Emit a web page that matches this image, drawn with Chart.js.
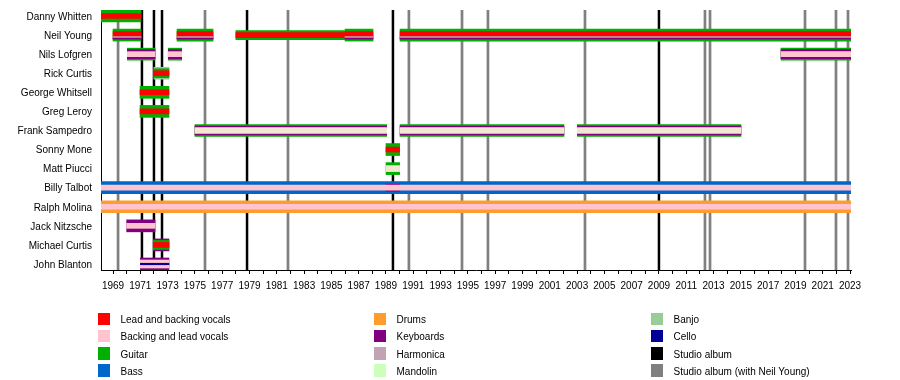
<!DOCTYPE html>
<html>
<head>
<meta charset="utf-8">
<script src="https://cdn.jsdelivr.net/npm/chart.js@4/dist/chart.umd.min.js"></script>
<style>
  html, body { margin: 0; padding: 0; background: #fff; }
  #wrap { position: relative; width: 900px; height: 380px; overflow: hidden; }
  #chart { position: absolute; left: 0; top: 0; }
  .leg { position: absolute; font: 10px "Liberation Sans", Arial, sans-serif; color: #000; white-space: nowrap; }
  .sw { position: absolute; width: 12px; height: 12.5px; }
  .lt { position: absolute; line-height: 13px; }
</style>
</head>
<body>
<div id="wrap">
  <canvas id="chart" width="900" height="380"></canvas>
  <div id="legend"></div>
</div>
<script>
// ---------- data ----------
const members = ['Danny Whitten','Neil Young','Nils Lofgren','Rick Curtis','George Whitsell','Greg Leroy',
  'Frank Sampedro','Sonny Mone','Matt Piucci','Billy Talbot','Ralph Molina','Jack Nitzsche','Michael Curtis','John Blanton'];

const timelineStart = 1968.12;
const timelineEnd = 2023.07;

// Studio albums (year as decimal)
const studioAlbums = [1971.12, 1972.0, 1972.59, 1978.82, 1989.51, 2009.0];
const studioAlbumsWithNeilYoung = [1969.37, 1975.74, 1981.82, 1990.68, 1994.57, 1996.47, 2003.58, 2012.37, 2012.74, 2019.7, 2021.97, 2022.85];

// Periods: [member, from, till]
const guitar = [
  ['Danny Whitten', 1968.12, 1971.05],
  ['Neil Young', 1969.0, 1971.05], ['Neil Young', 1973.69, 1976.33], ['Neil Young', 1986.0, 1988.05], ['Neil Young', 1990.03, 2023.07],
  ['Nils Lofgren', 1970.05, 1972.08], ['Nils Lofgren', 1973.05, 1974.03], ['Nils Lofgren', 2017.94, 2023.07],
  ['George Whitsell', 1970.98, 1973.1],
  ['Greg Leroy', 1970.98, 1973.1],
  ['Frank Sampedro', 1975.0, 1989.05], ['Frank Sampedro', 1990.03, 2002.04], ['Frank Sampedro', 2003.02, 2015.01],
  ['Sonny Mone', 1989.0, 1990.0],
  ['Matt Piucci', 1989.0, 1990.0]
];
const guitarPartTime = [['Neil Young', 1978.0, 1986.0]];
const guitarSecondary = [['Rick Curtis', 1972.0, 1973.1], ['Michael Curtis', 1971.95, 1973.1]];
const bass = [['Billy Talbot', 1968.12, 2023.07]];
const drums = [['Ralph Molina', 1968.12, 2023.07]];
const keyboards = [['Jack Nitzsche', 1970.0, 1972.08], ['Michael Curtis', 1971.95, 1973.1], ['John Blanton', 1971.0, 1973.1]];
const keyboardsSecondary = [
  ['Nils Lofgren', 1970.05, 1972.08], ['Nils Lofgren', 1973.05, 1974.03], ['Nils Lofgren', 2017.94, 2023.07],
  ['Frank Sampedro', 1975.0, 1989.05], ['Frank Sampedro', 1990.03, 2002.04], ['Frank Sampedro', 2003.02, 2015.01]
];
const keyboardsMinor = [['Billy Talbot', 1989.0, 1990.0]];
const banjo = [['Rick Curtis', 1972.0, 1973.1]];
const leadVocals = [['Neil Young', 1969.0, 1971.05], ['Neil Young', 1973.69, 1976.33], ['Neil Young', 1986.0, 1988.05], ['Neil Young', 1990.03, 2023.07]];
const leadVocalsMinor = [
  ['Danny Whitten', 1968.12, 1971.05], ['Neil Young', 1978.0, 1986.0], ['Rick Curtis', 1972.0, 1973.1],
  ['George Whitsell', 1970.98, 1973.1], ['Greg Leroy', 1970.98, 1973.1], ['Sonny Mone', 1989.0, 1990.0],
  ['Michael Curtis', 1971.95, 1973.1]
];
const backingVocals = [
  ['Nils Lofgren', 1970.05, 1972.08], ['Nils Lofgren', 1973.05, 1974.03], ['Nils Lofgren', 2017.94, 2023.07],
  ['Billy Talbot', 1968.12, 2023.07], ['Ralph Molina', 1968.12, 2023.07], ['Jack Nitzsche', 1970.0, 1972.08]
];
const backingVocalsWide = [['John Blanton', 1971.0, 1973.1]];
const harmonyVocals = [
  ['Frank Sampedro', 1975.0, 1989.05], ['Frank Sampedro', 1990.03, 2002.04], ['Frank Sampedro', 2003.02, 2015.01],
  ['Matt Piucci', 1989.0, 1990.0]
];
const harmonica = [['Neil Young', 1969.0, 1971.05], ['Neil Young', 1973.69, 1976.33], ['Neil Young', 1986.0, 1988.05], ['Neil Young', 1990.03, 2023.07]];
const keyboardsNeilYoung = [['Neil Young', 1969.0, 1971.05], ['Neil Young', 1973.69, 1976.33], ['Neil Young', 1986.0, 1988.05], ['Neil Young', 1990.03, 2023.07]];
const cello = [['John Blanton', 1971.0, 1973.1]];

const legendLabels = [
  ['Lead and backing vocals', 'Backing and lead vocals', 'Guitar', 'Bass'],
  ['Drums', 'Keyboards', 'Harmonica', 'Mandolin'],
  ['Banjo', 'Cello', 'Studio album', 'Studio album (with Neil Young)']
];

// ---------- styles ----------
const C = {
  'Lead and backing vocals': '#ff0000',
  'Backing and lead vocals': '#ffc4d0',
  'Guitar': '#00b000',
  'Bass': '#0066cc',
  'Drums': '#ff9c2e',
  'Keyboards': '#800080',
  'Harmonica': '#c0a4b4',
  'Mandolin': '#ccffbb',
  'Banjo': '#99cc99',
  'Cello': '#000099',
  'Studio album': '#000000',
  'Studio album (with Neil Young)': '#808080',
  'Backing vocals': '#f3e6d2'
};

// layers, bottom to top: [rows, colour key, thickness, shift]
const layers = [
  [guitar, 'Guitar', 12, 0],
  [guitarPartTime, 'Guitar', 9, 0],
  [bass, 'Bass', 12, 0],
  [drums, 'Drums', 12, 0],
  [keyboards, 'Keyboards', 12, 0],
  [banjo, 'Banjo', 12, 0],
  [guitarSecondary, 'Guitar', 9, 0],
  [keyboardsSecondary, 'Keyboards', 9, 0],
  [keyboardsMinor, 'Keyboards', 7, 0],
  [leadVocals, 'Lead and backing vocals', 7, 0],
  [leadVocalsMinor, 'Lead and backing vocals', 5, 0],
  [backingVocals, 'Backing and lead vocals', 5, 0],
  [backingVocalsWide, 'Backing and lead vocals', 8, 0],
  [harmonyVocals, 'Backing vocals', 6, 0],
  [harmonica, 'Harmonica', 1.5, 2.25],
  [keyboardsNeilYoung, 'Keyboards', 1, 3.5],
  [cello, 'Cello', 1.5, 0]
];

const datasets = layers.map(([rows, key, thick, shift], i) => ({
  label: key,
  data: rows.map(([m, a, b]) => ({ x: [a, b], y: members.indexOf(m) })),
  backgroundColor: C[key],
  borderWidth: 0,
  barThickness: thick,
  grouped: false,
  order: -i,
  shift: shift
}));

const FONT = { family: '"Liberation Sans", Arial, sans-serif', size: 10 };

const albumLinesPlugin = {
  id: 'albumLines',
  beforeDatasetsDraw(chart) {
    const { ctx, chartArea, scales: { x } } = chart;
    ctx.save();
    [[studioAlbumsWithNeilYoung, C['Studio album (with Neil Young)'], 2.7], [studioAlbums, C['Studio album'], 2.5]].forEach(([years, color, w]) => {
      ctx.strokeStyle = color;
      ctx.lineWidth = w;
      years.forEach(yr => {
        const px = x.getPixelForValue(yr);
        ctx.beginPath();
        ctx.moveTo(px, chartArea.top);
        ctx.lineTo(px, chartArea.bottom);
        ctx.stroke();
      });
    });
    ctx.restore();
  }
};

const shiftPlugin = {
  id: 'shiftBars',
  beforeDatasetDraw(chart, args) {
    const s = chart.data.datasets[args.index].shift;
    if (s) { chart.ctx.save(); chart.ctx.translate(0, s); }
  },
  afterDatasetDraw(chart, args) {
    if (chart.data.datasets[args.index].shift) chart.ctx.restore();
  }
};

new Chart(document.getElementById('chart'), {
  type: 'bar',
  data: { datasets },
  plugins: [albumLinesPlugin, shiftPlugin],
  options: {
    indexAxis: 'y',
    responsive: false,
    animation: false,
    layout: { padding: { top: 10, right: 49, left: 0, bottom: 0 } },
    plugins: { legend: { display: false }, tooltip: { enabled: false } },
    scales: {
      x: {
        type: 'linear',
        position: 'bottom',
        offset: false,
        min: timelineStart,
        max: timelineEnd,
        ticks: {
          stepSize: 1, includeBounds: false, autoSkip: false, maxRotation: 0, minRotation: 0,
          maxTicksLimit: 200, padding: 6, color: '#000', font: FONT,
          callback: v => (Math.round(v) % 2 === 1 ? String(Math.round(v)) : '')
        },
        grid: { offset: false, drawOnChartArea: false, drawTicks: true, tickLength: 4, color: '#000', lineWidth: 1 },
        border: { display: true, color: '#000', width: 1 },
        afterFit: s => { s.height = 110; }
      },
      y: {
        type: 'linear',
        reverse: true,
        offset: false,
        min: -0.3145,
        max: members.length - 1 + 0.3145,
        ticks: {
          stepSize: 1, includeBounds: false, autoSkip: false, maxTicksLimit: 100,
          padding: 9, labelOffset: 1, color: '#000', font: FONT,
          callback: v => (members[v] !== undefined ? members[v] : '')
        },
        grid: { display: false, drawTicks: false, offset: false },
        border: { display: true, color: '#000', width: 1 },
        afterFit: s => { s.width = 101; s.paddingTop = 0; s.paddingBottom = 0; }
      }
    }
  }
});

// ---------- legend (HTML text) ----------
const legend = document.getElementById('legend');
const colLeft = [98, 374, 651];
legendLabels.forEach((col, ci) => {
  col.forEach((label, ri) => {
    const top = 312.5 + ri * 17.3;
    const sw = document.createElement('div');
    sw.className = 'leg sw';
    sw.style.left = colLeft[ci] + 'px';
    sw.style.top = top + 'px';
    sw.style.background = C[label];
    legend.appendChild(sw);
    const t = document.createElement('div');
    t.className = 'leg lt';
    t.style.left = (colLeft[ci] + 22.5) + 'px';
    t.style.top = (top + 0.5) + 'px';
    t.textContent = label;
    legend.appendChild(t);
  });
});
</script>
</body>
</html>
